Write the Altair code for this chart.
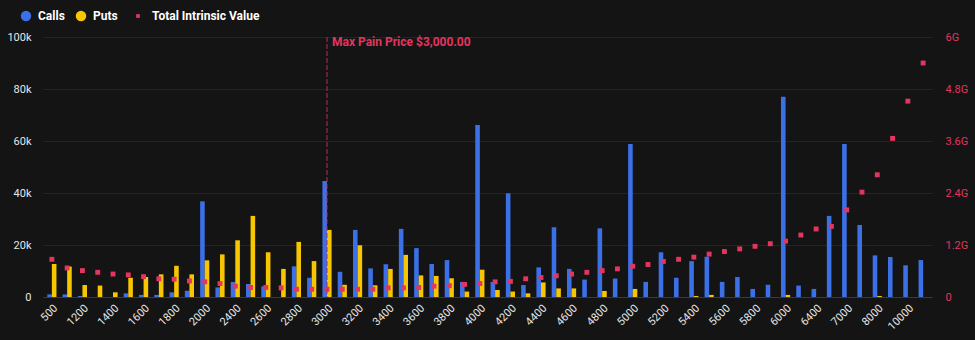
import altair as alt
import pandas as pd

strikes = ["500","1000","1200","1300","1400","1500","1600","1700","1800","1900",
           "2000","2200","2400","2500","2600","2700","2800","2900","3000","3100",
           "3200","3300","3400","3500","3600","3700","3800","3900","4000","4100",
           "4200","4300","4400","4500","4600","4700","4800","4900","5000","5100",
           "5200","5300","5400","5500","5600","5700","5800","5900","6000","6200",
           "6400","6500","7000","7500","8000","9000","10000","12000"]

calls = [1000,1000,400,0,0,1400,800,800,1800,2400,
         36800,3700,5800,5000,4100,0,11800,7400,44600,9700,
         25800,11000,12600,26200,18800,12700,14200,5800,66200,5800,
         39900,4600,11400,26800,10800,6700,26400,7100,58800,5800,
         17200,7400,13800,15500,5800,7700,3100,4700,77000,4400,
         3100,31200,58800,27700,16000,15400,12200,14200]

puts = [12700,11700,4600,4400,1800,7400,7700,8700,12000,8700,
        14100,16400,21800,31200,17200,10800,21200,13800,25800,4700,
        19900,4500,10800,16200,8300,8100,7200,2100,10500,2700,
        2100,1400,5600,3300,3300,0,2300,0,3100,0,
        0,0,400,800,0,0,0,0,800,0,
        0,0,0,0,400,0,0,0]

tiv = [0.87,0.67,0.61,0.57,0.53,0.51,0.47,0.42,0.41,0.37,
       0.35,0.31,0.25,0.22,0.22,0.21,0.18,0.18,0.18,0.18,
       0.18,0.18,0.21,0.21,0.22,0.25,0.26,0.29,0.31,0.35,
       0.36,0.42,0.45,0.49,0.53,0.57,0.61,0.65,0.71,0.75,
       0.82,0.87,0.92,0.99,1.05,1.11,1.17,1.23,1.29,1.43,
       1.57,1.63,2.01,2.42,2.82,3.66,4.52,5.40]  # billions

x_tick_labels = ["500","1200","1400","1600","1800","2000","2400","2600","2800","3000",
                 "3200","3400","3600","3800","4000","4200","4400","4600","4800","5000",
                 "5200","5400","5600","5800","6000","6400","7000","8000","10000"]

left_ticks = [0, 20000, 40000, 60000, 80000, 100000]
right_ticks = [0, 1.2e9, 2.4e9, 3.6e9, 4.8e9, 6e9]

max_pain_strike = "3000"
max_pain_label = "Max Pain Price $3,000.00"

BLUE = "#3b70e6"
YELLOW = "#f8c600"
PINK = "#e3355f"
BG = "#141414"
FONT = "Roboto"

df = pd.DataFrame({
    "strike": strikes,
    "Calls": calls,
    "Puts": puts,
    "tiv": [v * 1e9 for v in tiv],
    "tivlabel": ["Total Intrinsic Value"] * len(strikes),
})

xscale = alt.Scale(domain=strikes, paddingInner=0.4, paddingOuter=0.28)
xaxis = alt.Axis(values=x_tick_labels, labelAngle=-45, labelColor="#e6e6e6",
                 labelFontSize=11, labelFont=FONT, ticks=False, domain=True,
                 domainColor="#3a3a3a", grid=False, title=None, labelPadding=5)

base = alt.Chart(df)

bars = base.transform_fold(["Calls", "Puts"], as_=["series", "value"]).mark_bar().encode(
    x=alt.X("strike:N", scale=xscale, axis=xaxis),
    xOffset=alt.XOffset("series:N", scale=alt.Scale(domain=["Calls", "Puts"], paddingInner=0, paddingOuter=0)),
    y=alt.Y("value:Q", scale=alt.Scale(domain=[0, 100000], nice=False),
            axis=alt.Axis(orient="left", values=left_ticks,
                          labelExpr="datum.value == 0 ? '0' : format(datum.value / 1000, '~g') + 'k'",
                          grid=True, gridColor="#242424", domain=False, ticks=False,
                          labelColor="#e6e6e6", labelFontSize=11, labelFont=FONT,
                          labelPadding=12, title=None)),
    color=alt.Color("series:N", scale=alt.Scale(domain=["Calls", "Puts"], range=[BLUE, YELLOW]),
                    legend=alt.Legend(orient="none", legendX=-23, legendY=-27, direction="horizontal",
                                      title=None, symbolType="circle", symbolSize=110,
                                      labelColor="#ffffff", labelFont=FONT, labelFontSize=12,
                                      labelFontWeight="bold", labelOffset=6, columnPadding=10,
                                      padding=0, symbolStrokeWidth=0)),
)

points = base.mark_point(filled=True, size=24, color=PINK, opacity=1).encode(
    x=alt.X("strike:N", scale=xscale, axis=xaxis),
    y=alt.Y("tiv:Q", scale=alt.Scale(domain=[0, 6e9], nice=False),
            axis=alt.Axis(orient="right", values=right_ticks,
                          labelExpr="datum.value == 0 ? '0' : format(datum.value / 1e9, '~g') + 'G'",
                          grid=False, domain=False, ticks=False, labelColor=PINK, labelFontSize=11,
                          labelFont=FONT, labelPadding=13, title=None)),
    shape=alt.Shape("tivlabel:N", scale=alt.Scale(domain=["Total Intrinsic Value"], range=["square"]),
                    legend=alt.Legend(orient="none", legendX=89, legendY=-27, title=None,
                                      symbolSize=14, symbolFillColor=PINK, symbolStrokeWidth=0,
                                      labelColor="#ffffff", labelFont=FONT, labelFontSize=12,
                                      labelFontWeight="bold", labelOffset=8, padding=0)),
)

mp = pd.DataFrame({"strike": [max_pain_strike], "label": [max_pain_label]})

rule = alt.Chart(mp).mark_rule(color="#b82b53", strokeDash=[5, 2], strokeWidth=1).encode(
    x=alt.X("strike:N", scale=xscale, axis=xaxis),
)

text = alt.Chart(mp).mark_text(align="left", baseline="middle", dx=5, color=PINK,
                               font=FONT, fontSize=12, fontWeight="bold").encode(
    x=alt.X("strike:N", scale=xscale, axis=xaxis),
    y=alt.value(5),
    text="label:N",
)

chart = alt.layer(bars, points, rule, text).resolve_scale(
    y="independent"
).properties(
    width=889, height=260,
    background=BG,
    padding={"left": 43, "top": 37, "right": 43, "bottom": 43},
    autosize=alt.AutoSizeParams(type="none"),
).configure_view(stroke=None)

chart.save("out.html", embed_options={"renderer": "svg", "actions": False})
